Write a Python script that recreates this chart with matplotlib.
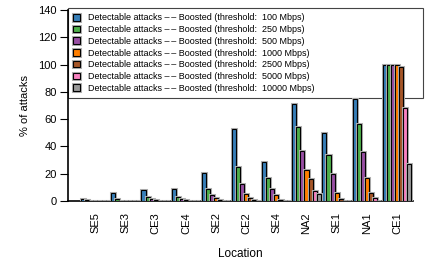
import matplotlib
matplotlib.use("Agg")
import matplotlib.pyplot as plt
import matplotlib.patheffects as pe
import numpy as np

plt.rcParams['font.family'] = ['Liberation Sans', 'DejaVu Sans']

locations = ["SE5", "SE3", "CE3", "CE4", "SE2", "CE2", "SE4", "NA2", "SE1", "NA1", "CE1"]
thresholds = ["100", "250", "500", "1000", "2500", "5000", "10000"]
colors = ["#377eb8", "#4daf4a", "#984ea3", "#ff7f00", "#a65628", "#f781bf", "#999999"]

v100   = [1.5, 5.6, 8.3, 8.6, 20.7, 52.5, 28.8, 70.9, 49.6, 74.8, 100.0]
v250   = [0.5, 1.2, 3.2, 2.9, 8.8, 24.9, 16.6, 54.5, 33.7, 56.2, 100.0]
v500   = [0.1, 0.3, 1.5, 1.2, 4.4, 12.5, 8.8, 36.7, 19.6, 35.9, 100.0]
v1000  = [0.0, 0.1, 0.5, 0.5, 2.0, 5.1, 4.2, 22.7, 6.1, 17.1, 99.5]
v2500  = [0.0, 0.0, 0.1, 0.1, 0.7, 2.2, 1.0, 15.9, 1.5, 5.6, 98.5]
v5000  = [0.0, 0.0, 0.0, 0.0, 0.1, 0.5, 0.3, 7.1, 0.3, 2.0, 68.0]
v10000 = [0.0, 0.0, 0.0, 0.0, 0.0, 0.1, 0.1, 4.9, 0.1, 0.3, 27.1]
series = [v100, v250, v500, v1000, v2500, v5000, v10000]

fig = plt.figure(figsize=(4.28, 2.67), dpi=100)
ax = fig.add_axes([68/428, 1-201/267, (413-68)/428, (201-10)/267])

x = np.arange(len(locations))
w = 0.136
n = len(series)
shadow = [pe.Stroke(linewidth=2.2, foreground="#b0b0b0"), pe.Normal()]
for i, (vals, c, t) in enumerate(zip(series, colors, thresholds)):
    bars = ax.bar(x + (i - (n-1)/2) * w, vals, w, color=c, edgecolor="black", linewidth=0.8,
                  label=f"Detectable attacks \u2013\u2009\u2013 Boosted (threshold:  {t} Mbps)", zorder=3)
    for b in bars:
        b.set_path_effects(shadow)

ax.set_xlim(-0.91, 10.53)
ax.set_ylim(0, 140)
ax.set_yticks(range(0, 141, 20))
ax.set_xticks(x)
ax.set_xticklabels(locations, rotation=90, fontsize=8)
ax.tick_params(axis='x', length=0, pad=8)
ax.tick_params(axis='y', length=6, width=0.8, direction='out', pad=2, labelsize=8)
for s in ["top", "right"]:
    ax.spines[s].set_visible(False)
ax.spines["left"].set_linewidth(1.2)
ax.spines["bottom"].set_linewidth(1.2)
ax.set_ylabel("% of attacks", fontsize=8, labelpad=6)
ax.set_xlabel("Location", fontsize=8.5, labelpad=10)

axw = 413 - 68
leg = ax.legend(loc="upper left", bbox_to_anchor=(0.0, 1.0 + 2/191, (423-68)/axw, 0),
                fontsize=6.5, frameon=True, framealpha=1.0,
                fancybox=False, edgecolor="#444444", handlelength=0.75, handleheight=0.75,
                labelspacing=0.3, borderpad=0.6, handletextpad=0.9, borderaxespad=0,
                mode="expand")
leg.get_frame().set_linewidth(0.8)
leg.set_zorder(1)

fig.savefig("out.png", dpi=100)
